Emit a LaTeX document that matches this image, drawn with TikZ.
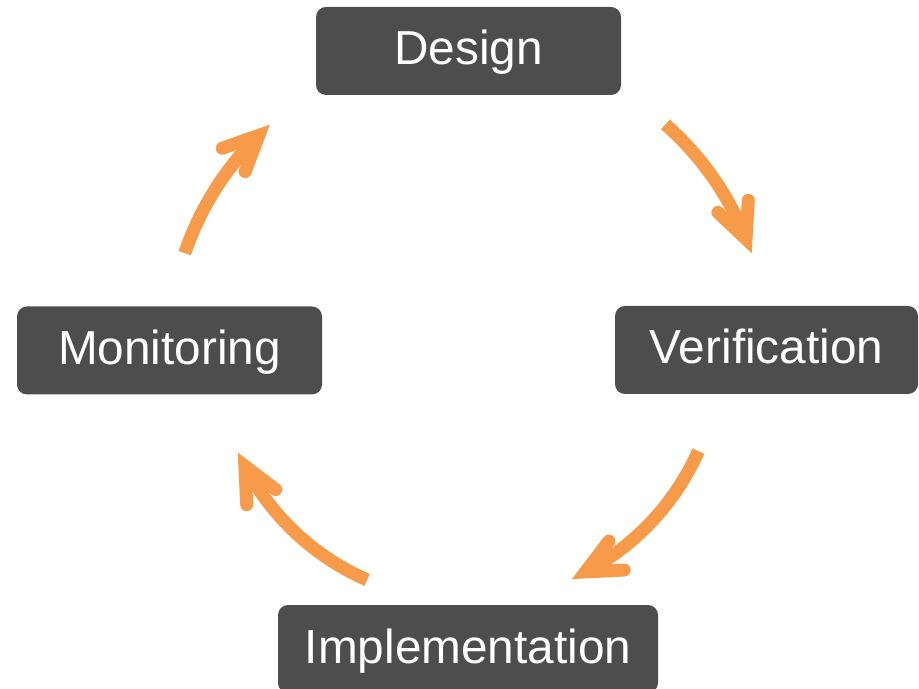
\documentclass[tikz,border=0pt]{standalone}
\usepackage{fontspec}
\setmainfont{Liberation Sans}
\usetikzlibrary{calc}
\definecolor{boxgray}{HTML}{4D4D4D}
\definecolor{arroworange}{HTML}{F79A4A}
\begin{document}
\begin{tikzpicture}[x=0.75pt,y=0.75pt,
  stagebox/.style={fill=boxgray, rounded corners=7.5pt, text=white, minimum height=66pt,
    inner sep=0pt, font=\fontsize{35.8}{42}\selectfont, text height=25pt, text depth=4pt},
  cycarrow/.style={draw=arroworange, line width=9.75pt},
  arrowhead/.style={draw=arroworange, line width=9.75pt, line cap=round, line join=miter}]
\useasboundingbox (0,0) rectangle (919,688);
\coordinate (C) at (468,339);
\node[stagebox, minimum width=228.75pt] (design) at (468.5,637) {Design};
\node[stagebox, minimum width=227.25pt] (verification) at (766.5,338) {Verification};
\node[stagebox, minimum width=228.75pt] (monitoring) at (169.5,337.5) {Monitoring};
\node[stagebox, minimum width=285pt] (implementation) at (468,39) {Implementation};
\newcommand{\cyclearrow}[4]{%
  \coordinate (#1s) at ($(C)+(#2:#4)$);
  \coordinate (#1e) at ($(C)+(#3:#4)$);
  \draw[cycarrow] (#1s) arc[start angle=#2, end angle=#3, radius=#4];
  \pgfmathsetmacro\wingA{#3+115}
  \pgfmathsetmacro\wingB{#3+65}
  \draw[arrowhead] ($(#1e)+(\wingA:29pt)$) -- (#1e) -- ($(#1e)+(\wingB:29pt)$);
}
\cyclearrow{dv}{48.7}{21.6}{224.25pt}
\cyclearrow{vi}{-23.9}{-62.2}{189pt}
\cyclearrow{im}{-113.6}{-152.3}{189pt}
\cyclearrow{md}{161.3}{134.4}{224.25pt}
\end{tikzpicture}
\end{document}
